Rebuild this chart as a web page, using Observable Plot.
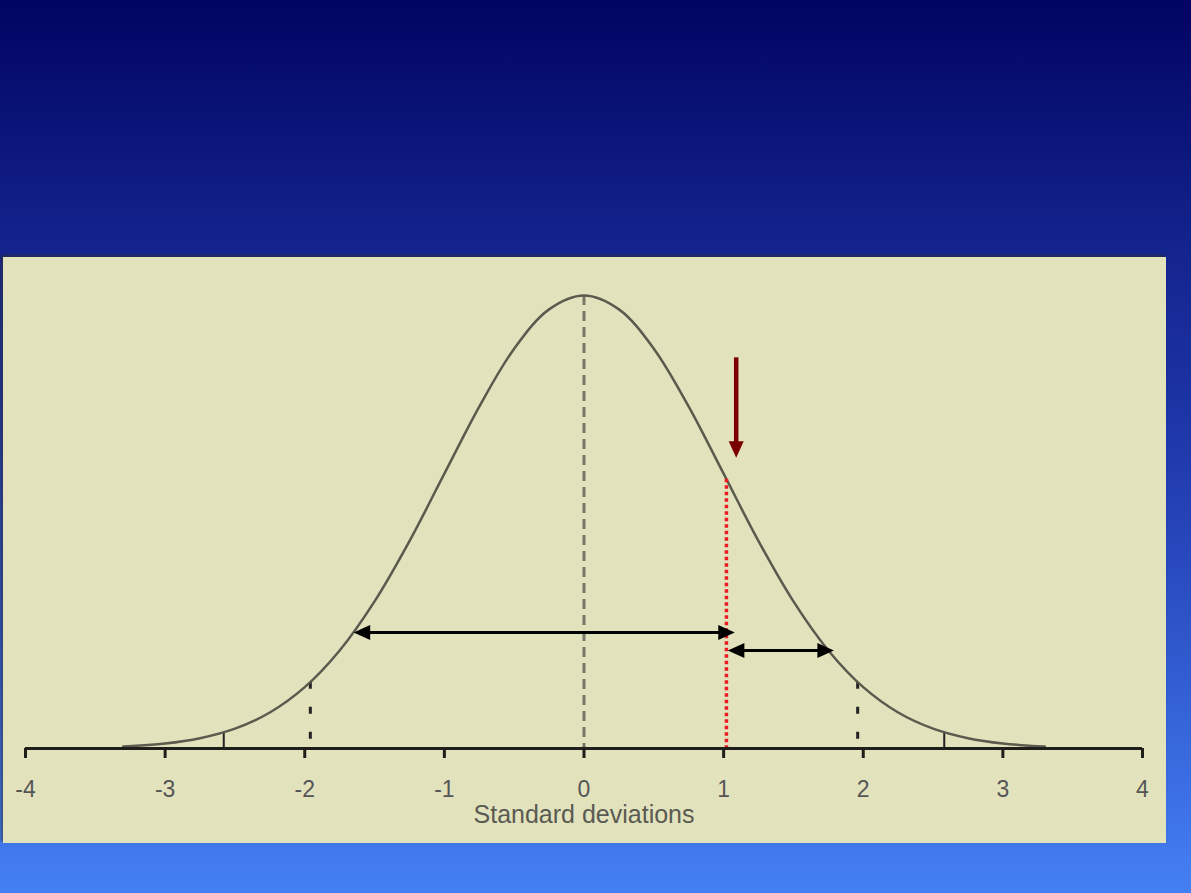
<!DOCTYPE html>
<html>
<head>
<meta charset="utf-8">
<script src="https://cdn.jsdelivr.net/npm/d3@7"></script>
<script src="https://cdn.jsdelivr.net/npm/@observablehq/plot@0.6"></script>
<style>
  html, body { margin: 0; padding: 0; }
  body {
    width: 1191px; height: 893px; overflow: hidden; position: relative;
    background: linear-gradient(180deg, #000462 0%, #0a1478 14%, #14248e 28%, #1c33a4 45%, #2848bd 62%, #3563d8 80%, #4480f3 100%);
    font-family: "Liberation Sans", Arial, sans-serif;
  }
  #panel {
    position: absolute; left: 3px; top: 257px; width: 1163px; height: 586px;
    background: #e2e3bd;
    box-shadow: -2px -2px 3px rgba(50, 50, 40, 0.6);
  }
  #chart { position: absolute; left: 0; top: 255px; }
  #chart svg { overflow: visible; }
</style>
</head>
<body>
<div id="panel"></div>
<div id="chart"></div>
<script>
// Axis ticks in standard deviations
const ticks = [-4, -3, -2, -1, 0, 1, 2, 3, 4];

// Bell curve points (standard deviations, density)
const curveX = [-3.3, -3, -2.75, -2.5, -2.25, -2, -1.75, -1.5, -1.25, -1, -0.75, -0.5, -0.25, 0,
                0.25, 0.5, 0.75, 1, 1.25, 1.5, 1.75, 2, 2.25, 2.5, 2.75, 3, 3.3];
const curveY = [0.0017, 0.0044, 0.0091, 0.0175, 0.0317, 0.0540, 0.0863, 0.1295, 0.1826, 0.2420, 0.3011, 0.3521, 0.3867, 0.3989,
                0.3867, 0.3521, 0.3011, 0.2420, 0.1826, 0.1295, 0.0863, 0.0540, 0.0317, 0.0175, 0.0091, 0.0044, 0.0017];

// Vertical cut lines: position and the curve height they reach
const meanLine = {x: 0, top: 0.3989};
const dottedCutsX = [-1.96, 1.96];
const dottedCutsTop = [0.0584, 0.0584];
const solidCutsX = [-2.58, 2.58];
const solidCutsTop = [0.0143, 0.0143];
const markerLine = {x: 1.02, top: 0.2371};

// Horizontal double-headed arrows (from, to, height)
const spanFrom = [-1.65, 1.03];
const spanTo = [1.08, 1.79];
const spanY = [0.1021, 0.0863];

// Pointer arrow above the marked point
const pointer = {x: 1.09, top: 0.344, tip: 0.256};

const curve = curveX.map((x, i) => ({x, y: curveY[i]}));
const dotted = dottedCutsX.map((x, i) => ({x, top: dottedCutsTop[i]}));
const solid = solidCutsX.map((x, i) => ({x, top: solidCutsTop[i]}));
const spans = spanFrom.map((x1, i) => ({x1, x2: spanTo[i], y: spanY[i]}));

// Filled arrowhead with its tip at the origin, pointing right
const arrowHead = {
  draw(ctx, size) {
    const s = Math.sqrt(size);
    ctx.moveTo(0, 0);
    ctx.lineTo(-s * 1.1, -s * 0.5);
    ctx.lineTo(-s * 1.1, s * 0.5);
    ctx.closePath();
  }
};
const heads = [
  ...spans.map(d => ({x: d.x1, y: d.y, rotate: 180})),
  ...spans.map(d => ({x: d.x2, y: d.y, rotate: 0}))
];

const chart = Plot.plot({
  width: 1166,
  height: 588,
  marginLeft: 25,
  marginRight: 24,
  marginTop: 40,
  marginBottom: 95,
  style: {background: "transparent", fontFamily: "'Liberation Sans', Arial, sans-serif"},
  x: {domain: [-4, 4]},
  y: {domain: [0, 0.3989], axis: null},
  marks: [
    Plot.ruleX([meanLine], {x: "x", y1: "top", y2: 0, stroke: "#77776a", strokeWidth: 3, strokeDasharray: "10,6"}),
    Plot.ruleX(dotted, {x: "x", y1: "top", y2: 0, stroke: "#222", strokeWidth: 3, strokeDasharray: "7,18"}),
    Plot.ruleX(solid, {x: "x", y1: "top", y2: 0, stroke: "#222", strokeWidth: 2}),
    Plot.line(curve, {x: "x", y: "y", curve: "catmull-rom", stroke: "#5a5a4e", strokeWidth: 2.5}),
    Plot.ruleX([markerLine], {x: "x", y1: "top", y2: 0, stroke: "#ee1a22", strokeWidth: 3.5, strokeDasharray: "3.5,3"}),
    Plot.ruleY([0], {x1: -4, x2: 4, stroke: "#1e1e1a", strokeWidth: 3}),
    Plot.axisX({ticks, tickSize: 10, tickPadding: 22, tickFormat: d => String(d), strokeWidth: 3, stroke: "#1e1e1a", fill: "#555", fontSize: 23, label: null}),
    Plot.text(["Standard deviations"], {x: 0, frameAnchor: "bottom", lineAnchor: "top", dy: 57, fontSize: 25, fill: "#5a5a52"}),
    Plot.ruleY(spans, {x1: "x1", x2: "x2", y: "y", stroke: "black", strokeWidth: 3, insetLeft: 8, insetRight: 8}),
    Plot.dot(heads, {x: "x", y: "y", rotate: "rotate", symbol: arrowHead, r: 8.5, fill: "black", stroke: "none"}),
    Plot.ruleX([pointer], {x: "x", y1: "top", y2: "tip", stroke: "#7a0000", strokeWidth: 4.5, insetBottom: 10}),
    Plot.dot([pointer], {x: "x", y: "tip", rotate: 90, symbol: arrowHead, r: 8.5, fill: "#7a0000", stroke: "none"})
  ]
});
document.getElementById("chart").appendChild(chart);
</script>
</body>
</html>
